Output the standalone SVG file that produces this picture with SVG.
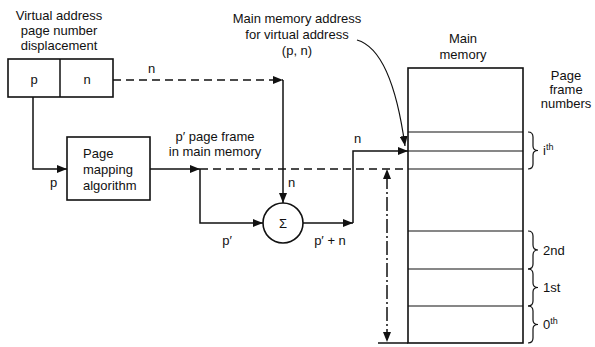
<svg xmlns="http://www.w3.org/2000/svg" width="595" height="347" viewBox="0 0 595 347">
<style>
text{font-family:"Liberation Sans",Arial,sans-serif;font-size:13px;fill:#111}
.c{text-anchor:middle}
.ln{fill:none;stroke:#111;stroke-width:1.5}
.dash{stroke-dasharray:8 5}
.dd{stroke-dasharray:14 3 2 3}
.box{fill:#fff;stroke:#111;stroke-width:1.6}
.thin{fill:none;stroke:#111;stroke-width:1.2}
</style>
<defs>
<marker id="ah" markerUnits="userSpaceOnUse" markerWidth="10" markerHeight="8" refX="10" refY="4" orient="auto">
<path d="M0,0 L10,4 L0,8 Z" fill="#111"/>
</marker>
</defs>
<rect width="595" height="347" fill="#fff"/>

<g id="virtual-address">
<text class="c" x="59" y="20">Virtual address</text>
<text class="c" x="59" y="35">page number</text>
<text class="c" x="59" y="50">displacement</text>
<rect class="box" x="8" y="59" width="105" height="38"/>
<line class="ln" x1="60" y1="59" x2="60" y2="97"/>
<text class="c" x="34" y="84">p</text>
<text class="c" x="87" y="84">n</text>
</g>

<g id="page-mapping">
<rect class="box" x="67" y="137" width="83" height="63"/>
<text x="83" y="158">Page</text>
<text x="83" y="174">mapping</text>
<text x="83" y="190">algorithm</text>
</g>

<g id="sum">
<circle class="box" cx="283" cy="223" r="20"/>
<text class="c" x="283" y="228">Σ</text>
</g>

<g id="main-memory">
<text class="c" x="463" y="43">Main</text>
<text class="c" x="463" y="59">memory</text>
<rect class="box" x="408" y="68" width="115" height="275"/>
<g class="thin">
<line x1="408" y1="132" x2="523" y2="132"/>
<line x1="408" y1="151" x2="523" y2="151"/>
<line x1="408" y1="169" x2="523" y2="169"/>
<line x1="408" y1="231" x2="523" y2="231"/>
<line x1="408" y1="269" x2="523" y2="269"/>
<line x1="408" y1="306" x2="523" y2="306"/>
</g>
</g>

<g id="page-frame-numbers">
<text class="c" x="566" y="80">Page</text>
<text class="c" x="566" y="94">frame</text>
<text class="c" x="566" y="108">numbers</text>
<g class="thin">
<path d="M528,132 Q533,132 533,137 L533,146 Q533,150.5 538,150.5 Q533,150.5 533,155 L533,164 Q533,169 528,169"/>
<path d="M528,231 Q533,231 533,236 L533,245 Q533,250 538,250 Q533,250 533,255 L533,264 Q533,269 528,269"/>
<path d="M528,269 Q533,269 533,274 L533,283 Q533,287.5 538,287.5 Q533,287.5 533,292 L533,301 Q533,306 528,306"/>
<path d="M528,306 Q533,306 533,311 L533,320 Q533,324.5 538,324.5 Q533,324.5 533,329 L533,338 Q533,343 528,343"/>
</g>
<text x="543" y="155">i<tspan dy="-5" font-size="9">th</tspan></text>
<text x="543" y="255">2nd</text>
<text x="543" y="292">1st</text>
<text x="543" y="329">0<tspan dy="-5" font-size="9">th</tspan></text>
</g>

<g id="address-label">
<text class="c" x="297" y="23">Main memory address</text>
<text class="c" x="297" y="39">for virtual address</text>
<text class="c" x="297" y="55">(p, n)</text>
</g>

<g id="connectors">
<path class="ln dash" d="M113,80 L283,80" marker-end="url(#ah)"/>
<path class="ln" d="M283,80 L283,203" marker-end="url(#ah)"/>
<path class="ln" d="M33,97 L33,169 L67,169" marker-end="url(#ah)"/>
<path class="ln" d="M150,169 L200,169" marker-end="url(#ah)"/>
<path class="ln dash" d="M200,169 L408,169"/>
<path class="ln" d="M200,169 L200,223 L263,223" marker-end="url(#ah)"/>
<path class="ln" d="M303,223 L353,223" marker-end="url(#ah)"/>
<path class="ln" d="M353,223 L353,151 L408,151" marker-end="url(#ah)"/>
<path class="thin" d="M357,40 C385,48 398,95 405,146" marker-end="url(#ah)"/>
<path class="ln dd" d="M387,175 L387,336"/>
<path d="M387,169 L383,179 L391,179 Z M387,342 L383,332 L391,332 Z" fill="#111"/>
<line class="ln" x1="378" y1="343" x2="408" y2="343"/>
<text x="148" y="73">n</text>
<text x="50" y="187">p</text>
<text class="c" x="215" y="141">p′ page frame</text>
<text class="c" x="215" y="156">in main memory</text>
<text x="288" y="187">n</text>
<text x="354" y="143">n</text>
<text class="c" x="227" y="245">p′</text>
<text class="c" x="330" y="245">p′ + n</text>
</g>
</svg>
